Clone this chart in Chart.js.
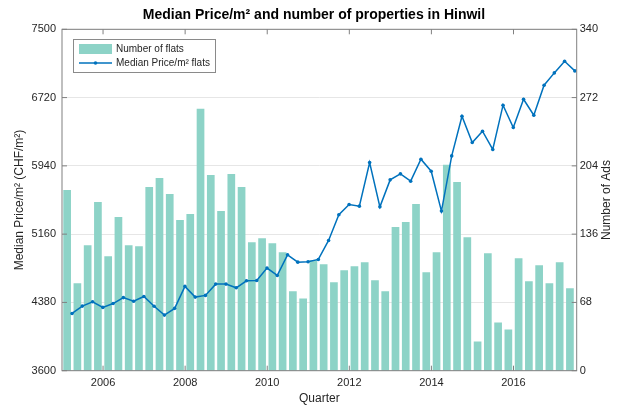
<!DOCTYPE html>
<html>
<head>
<meta charset="utf-8">
<script src="https://cdn.jsdelivr.net/npm/chart.js@4.4.1/dist/chart.umd.min.js"></script>
<style>
  body { margin: 0; background: #fff; }
  #wrap { width: 628px; height: 407px; }
</style>
</head>
<body>
<div id="wrap"><canvas id="chart1"></canvas></div>
<script>
// one value per quarter, 2005 Q1 .. 2017 Q2
let firstYear = 2005;

// number of flat ads per quarter (right axis)
let flats = [180, 87, 125, 168, 114, 153, 125, 124, 183, 192,
             176, 150, 156, 261, 195, 159, 196, 183, 128, 132,
             127, 118, 79, 72, 110, 106, 88, 100, 104, 108,
             90, 79, 143, 148, 166, 98, 118, 205, 188, 133,
             29, 117, 48, 41, 112, 89, 105, 87, 108, 82];

// median price per m2 (left axis)
let medianPrice = [4254, 4338, 4388, 4323, 4367, 4435, 4393, 4448, 4336, 4235,
                   4312, 4563, 4441, 4460, 4589, 4589, 4547, 4627, 4631, 4772,
                   4688, 4924, 4840, 4844, 4871, 5088, 5381, 5499, 5480, 5978,
                   5472, 5780, 5849, 5765, 6016, 5879, 5423, 6054, 6507, 6206,
                   6336, 6127, 6633, 6378, 6701, 6518, 6861, 7002, 7135, 7025];

// tick labels
let yearTicks = [2006, 2008, 2010, 2012, 2014, 2016];
let priceTicks = [3600, 4380, 5160, 5940, 6720, 7500];
let adsTicks = [0, 68, 136, 204, 272, 340];

// bars sit mid quarter, the price line at quarter end
let barPoints = flats.map((v, i) => ({ x: firstYear + i / 4 + 0.125, y: v }));
let linePoints = medianPrice.map((v, i) => ({ x: firstYear + i / 4 + 0.245, y: v }));

Chart.defaults.font.family = "'Liberation Sans', Arial, sans-serif";
Chart.defaults.color = '#262626';

let axisGray = '#808080';

function setTicks(list) {
  return function (scale) {
    scale.ticks = list.map(v => ({ value: v }));
  };
}

// box round the plot with inward tick marks, like the original
let frame = {
  id: 'frame',
  afterDatasetsDraw(chart) {
    let ctx = chart.ctx;
    let a = chart.chartArea;
    let len = 5;
    ctx.save();
    ctx.strokeStyle = axisGray;
    ctx.lineWidth = 1;
    ctx.strokeRect(a.left, a.top, a.right - a.left, a.bottom - a.top);
    ctx.beginPath();
    yearTicks.forEach(t => {
      let x = chart.scales.x.getPixelForValue(t);
      ctx.moveTo(x, a.bottom); ctx.lineTo(x, a.bottom - len);
      ctx.moveTo(x, a.top); ctx.lineTo(x, a.top + len);
    });
    priceTicks.forEach(t => {
      let y = chart.scales.y.getPixelForValue(t);
      ctx.moveTo(a.left, y); ctx.lineTo(a.left + len, y);
    });
    adsTicks.forEach(t => {
      let y = chart.scales.y1.getPixelForValue(t);
      ctx.moveTo(a.right, y); ctx.lineTo(a.right - len, y);
    });
    ctx.stroke();

    // right axis title, reading upwards
    ctx.fillStyle = '#262626';
    ctx.font = "12px 'Liberation Sans', Arial, sans-serif";
    ctx.translate(607, (a.top + a.bottom) / 2);
    ctx.rotate(-Math.PI / 2);
    ctx.textAlign = 'center';
    ctx.textBaseline = 'middle';
    ctx.fillText('Number of Ads', 0, 0);
    ctx.restore();
  }
};

// legend box in the upper left corner of the plot
let legendBox = {
  id: 'legendBox',
  afterDraw(chart) {
    let ctx = chart.ctx;
    let ds = chart.data.datasets;
    ctx.save();
    ctx.fillStyle = '#fff';
    ctx.fillRect(73, 39, 142, 34);
    ctx.strokeStyle = '#8a8a8a';
    ctx.lineWidth = 1;
    ctx.strokeRect(73.5, 39.5, 142, 33);

    ctx.fillStyle = ds[1].backgroundColor;
    ctx.fillRect(79, 44, 33, 10);

    ctx.strokeStyle = ds[0].borderColor;
    ctx.lineWidth = 1.5;
    ctx.beginPath();
    ctx.moveTo(79, 63); ctx.lineTo(112, 63);
    ctx.stroke();
    ctx.fillStyle = ds[0].borderColor;
    ctx.beginPath();
    ctx.arc(95.5, 63, 1.8, 0, Math.PI * 2);
    ctx.fill();

    ctx.fillStyle = '#262626';
    ctx.font = "10px 'Liberation Sans', Arial, sans-serif";
    ctx.textBaseline = 'middle';
    ctx.fillText(ds[1].label, 116, 49.5);
    ctx.fillText(ds[0].label, 116, 63);
    ctx.restore();
  }
};

let options = {
  type: 'bar',
  data: {
    datasets: [
      {
        type: 'line',
        label: 'Median Price/m² flats',
        data: linePoints,
        yAxisID: 'y',
        borderColor: '#0072BD',
        backgroundColor: '#0072BD',
        borderWidth: 1.5,
        pointRadius: 1.8,
        pointBorderWidth: 0,
        tension: 0,
        order: 1
      },
      {
        type: 'bar',
        label: 'Number of flats',
        data: barPoints,
        yAxisID: 'y1',
        backgroundColor: '#8dd3c7',
        borderWidth: 0,
        barPercentage: 0.75,
        categoryPercentage: 1,
        order: 2
      }
    ]
  },
  options: {
    responsive: true,
    maintainAspectRatio: false,
    animation: false,
    layout: { padding: 0 },
    plugins: {
      legend: { display: false },
      tooltip: { enabled: false },
      title: {
        display: true,
        text: 'Median Price/m² and number of properties in Hinwil',
        color: '#000',
        font: { size: 14, weight: 'bold' },
        padding: { top: 7, bottom: 5.5 }
      }
    },
    scales: {
      x: {
        type: 'linear',
        offset: false,
        min: 2005,
        max: 2017.54,
        afterBuildTicks: setTicks(yearTicks),
        afterFit(scale) { scale.height = 36.3; },
        grid: { display: false, drawTicks: false },
        border: { display: false },
        ticks: {
          padding: 6,
          font: { size: 11 },
          maxRotation: 0,
          callback: v => String(v)
        },
        title: {
          display: true,
          text: 'Quarter',
          font: { size: 12 },
          padding: { top: 0, bottom: 1 }
        }
      },
      y: {
        position: 'left',
        min: 3600,
        max: 7500,
        afterBuildTicks: setTicks(priceTicks),
        afterFit(scale) { scale.width = 62; },
        grid: { color: '#e6e6e6', drawTicks: false },
        border: { display: false },
        ticks: { padding: 6, font: { size: 11 }, callback: v => String(v) },
        title: {
          display: true,
          text: 'Median Price/m² (CHF/m²)',
          font: { size: 12 },
          padding: { top: 12, bottom: 0 }
        }
      },
      y1: {
        position: 'right',
        min: 0,
        max: 340,
        afterBuildTicks: setTicks(adsTicks),
        afterFit(scale) { scale.width = 51.3; },
        grid: { display: false, drawTicks: false },
        border: { display: false },
        ticks: { padding: 3, font: { size: 11 }, callback: v => String(v) }
      }
    }
  },
  plugins: [frame, legendBox]
};

let chart = new Chart(document.getElementById('chart1'), options);
</script>
</body>
</html>
